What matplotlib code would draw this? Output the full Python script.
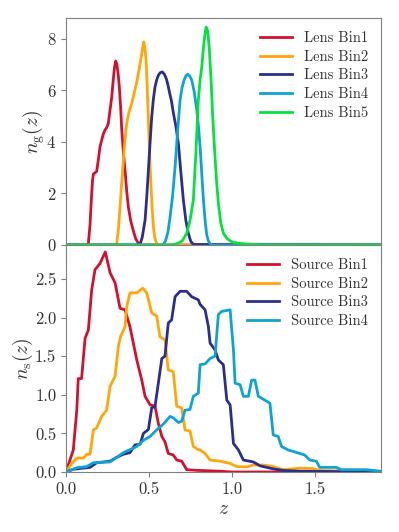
import numpy as np
import matplotlib
matplotlib.use('Agg')
import matplotlib.pyplot as plt

plt.rcParams['font.family'] = 'serif'
plt.rcParams['font.serif'] = ['cmr10']
plt.rcParams['mathtext.fontset'] = 'cm'
plt.rcParams['axes.unicode_minus'] = False
plt.rcParams['axes.formatter.use_mathtext'] = True

colors = ['#d2112f', '#ffa60a', '#2b2e8c', '#0fa3d4', '#08e040']

# lens bins: (z, n_g)
lens_labels = ['Lens Bin1', 'Lens Bin2', 'Lens Bin3', 'Lens Bin4', 'Lens Bin5']
lens_z = [
    [0.0, 0.13, 0.135, 0.145, 0.155, 0.16, 0.165, 0.175, 0.185, 0.195, 0.205, 0.215,
     0.225, 0.235, 0.245, 0.255, 0.265, 0.276, 0.285, 0.293, 0.30, 0.307, 0.315, 0.322,
     0.33, 0.336, 0.346, 0.356, 0.366, 0.376, 0.39, 0.406, 0.42, 0.435, 0.447, 1.9],
    [0.0, 0.30, 0.306, 0.316, 0.326, 0.336, 0.346, 0.356, 0.366, 0.38, 0.396, 0.41,
     0.427, 0.442, 0.457, 0.464, 0.469, 0.475, 0.483, 0.49, 0.497, 0.504, 0.511, 0.519,
     0.527, 0.535, 0.545, 0.555, 1.9],
    [0.0, 0.44, 0.447, 0.46, 0.477, 0.487, 0.497, 0.507, 0.517, 0.527, 0.537, 0.547,
     0.557, 0.569, 0.581, 0.593, 0.605, 0.615, 0.625, 0.637, 0.648, 0.663, 0.678, 0.693,
     0.708, 0.723, 0.738, 0.752, 0.768, 1.9],
    [0.0, 0.58, 0.587, 0.60, 0.615, 0.628, 0.643, 0.658, 0.673, 0.688, 0.70, 0.712,
     0.723, 0.734, 0.746, 0.758, 0.773, 0.789, 0.799, 0.809, 0.819, 0.829, 0.839, 0.849,
     0.859, 0.869, 0.88, 1.9],
    [0.0, 0.62, 0.66, 0.70, 0.728, 0.748, 0.768, 0.783, 0.798, 0.809, 0.819, 0.828,
     0.836, 0.845, 0.855, 0.865, 0.875, 0.885, 0.897, 0.909, 0.921, 0.934, 0.95, 0.97,
     0.99, 1.01, 1.05, 1.11, 1.2, 1.9],
]
lens_n = [
    [0.0, 0.0, 0.06, 0.8, 2.0, 2.5, 2.75, 2.8, 2.85, 3.3, 3.8, 4.06,
     4.3, 4.45, 4.55, 4.7, 5.2, 5.74, 6.4, 6.9, 7.13, 7.0, 6.6, 6.1,
     5.3, 4.5, 3.6, 2.9, 2.1, 1.48, 0.95, 0.55, 0.25, 0.08, 0.0, 0.0],
    [0.0, 0.0, 0.06, 0.6, 1.48, 2.4, 3.29, 4.1, 4.71, 5.15, 5.48, 5.85,
     6.32, 6.85, 7.42, 7.7, 7.87, 7.7, 7.16, 6.1, 4.84, 3.6, 2.52, 1.5,
     0.71, 0.3, 0.08, 0.0, 0.0],
    [0.0, 0.0, 0.03, 0.3, 0.97, 1.85, 2.9, 3.95, 4.97, 5.65, 6.13, 6.4,
     6.58, 6.68, 6.71, 6.62, 6.45, 6.2, 5.9, 5.55, 5.1, 4.6, 3.93, 2.8,
     1.74, 0.95, 0.45, 0.15, 0.02, 0.0],
    [0.0, 0.0, 0.02, 0.15, 0.5, 1.1, 1.9, 3.03, 4.4, 5.61, 6.1, 6.39,
     6.55, 6.62, 6.55, 6.4, 5.95, 5.22, 4.6, 3.8, 2.75, 1.74, 0.95, 0.39,
     0.15, 0.05, 0.0, 0.0],
    [0.0, 0.0, 0.03, 0.15, 0.45, 0.95, 1.74, 3.5, 5.61, 6.4, 6.9, 7.6,
     8.06, 8.45, 8.3, 7.55, 6.4, 4.97, 3.6, 2.39, 1.5, 0.84, 0.45, 0.26,
     0.16, 0.1, 0.06, 0.03, 0.0, 0.0],
]

# source bins: (z, n_s)
source_labels = ['Source Bin1', 'Source Bin2', 'Source Bin3', 'Source Bin4']
source_z = [
    [0.0, 0.044, 0.065, 0.074, 0.094, 0.115, 0.135, 0.155, 0.175, 0.205, 0.237, 0.266,
     0.296, 0.326, 0.356, 0.386, 0.427, 0.457, 0.477, 0.507, 0.537, 0.557, 0.578, 0.597,
     0.617, 0.647, 0.668, 0.698, 0.728, 0.8, 0.93, 1.0, 1.9],
    [0.0, 0.034, 0.065, 0.105, 0.125, 0.145, 0.165, 0.185, 0.215, 0.245, 0.266, 0.296,
     0.316, 0.33, 0.356, 0.366, 0.386, 0.427, 0.463, 0.487, 0.517, 0.547, 0.567, 0.597,
     0.617, 0.647, 0.668, 0.698, 0.718, 0.748, 0.768, 0.798, 0.809, 0.839, 0.869, 0.929,
     0.99, 1.03, 1.09, 1.13, 1.19, 1.25, 1.31, 1.41, 1.49, 1.53, 1.65, 1.67, 1.9],
    [0.0, 0.044, 0.145, 0.185, 0.266, 0.306, 0.346, 0.386, 0.416, 0.447, 0.467, 0.497,
     0.517, 0.537, 0.557, 0.578, 0.597, 0.617, 0.637, 0.658, 0.688, 0.728, 0.758, 0.798,
     0.809, 0.839, 0.859, 0.869, 0.899, 0.919, 0.949, 0.97, 0.99, 1.01, 1.04, 1.07,
     1.13, 1.17, 1.25, 1.31, 1.41, 1.9],
    [0.0, 0.065, 0.125, 0.165, 0.266, 0.306, 0.346, 0.386, 0.427, 0.467, 0.507, 0.547,
     0.587, 0.628, 0.648, 0.678, 0.698, 0.718, 0.748, 0.768, 0.798, 0.809, 0.839, 0.869,
     0.899, 0.919, 0.939, 0.99, 1.01, 1.02, 1.05, 1.07, 1.10, 1.12, 1.14, 1.16, 1.20,
     1.23, 1.25, 1.28, 1.30, 1.34, 1.38, 1.44, 1.47, 1.51, 1.53, 1.63, 1.66, 1.81, 1.9],
]
source_n = [
    [0.0, 0.285, 0.8, 1.21, 1.21, 1.73, 1.84, 2.36, 2.62, 2.7, 2.85, 2.58,
     2.45, 2.12, 2.1, 1.88, 1.45, 1.19, 0.98, 0.87, 0.85, 0.63, 0.46, 0.39,
     0.24, 0.22, 0.155, 0.14, 0.03, 0.02, 0.01, 0.0, 0.0],
    [0.0, 0.11, 0.18, 0.18, 0.23, 0.23, 0.545, 0.57, 0.72, 0.8, 1.11, 1.24,
     1.63, 1.76, 1.88, 2.14, 2.32, 2.32, 2.38, 2.32, 2.06, 2.02, 1.75, 1.71,
     1.32, 1.3, 0.85, 0.83, 0.545, 0.53, 0.33, 0.29, 0.285, 0.24, 0.155, 0.14,
     0.11, 0.07, 0.065, 0.09, 0.09, 0.07, 0.03, 0.05, 0.045, 0.02, 0.015, 0.0, 0.0],
    [0.0, 0.035, 0.06, 0.12, 0.14, 0.19, 0.23, 0.25, 0.35, 0.36, 0.5, 0.55,
     0.83, 0.85, 1.15, 1.47, 1.5, 1.93, 1.97, 2.27, 2.34, 2.34, 2.27, 2.23,
     2.17, 2.1, 1.88, 1.67, 1.58, 1.45, 1.39, 0.93, 0.87, 0.37, 0.285, 0.155,
     0.13, 0.08, 0.04, 0.02, 0.01, 0.0],
    [0.0, 0.055, 0.07, 0.12, 0.13, 0.19, 0.25, 0.29, 0.33, 0.41, 0.46, 0.545,
     0.62, 0.72, 0.7, 0.64, 0.66, 0.8, 0.81, 0.98, 1.02, 1.39, 1.4, 1.47,
     1.5, 2.04, 2.08, 2.1, 1.58, 1.15, 1.13, 0.98, 0.98, 1.19, 1.19, 0.98, 0.93,
     0.89, 0.48, 0.46, 0.33, 0.285, 0.26, 0.22, 0.155, 0.14, 0.06, 0.06, 0.03, 0.03, 0.01],
]

fig = plt.figure(figsize=(3.99, 5.32), dpi=100)
ax1 = fig.add_axes([0.1654, 0.5395, 0.7895, 0.4267])
ax2 = fig.add_axes([0.1654, 0.1128, 0.7895, 0.4267], sharex=ax1)

for z, n, c, lab in zip(lens_z, lens_n, colors, lens_labels):
    ax1.plot(z, n, color=c, lw=2, label=lab, solid_joinstyle='round')
for z, n, c, lab in zip(source_z, source_n, colors, source_labels):
    ax2.plot(z, n, color=c, lw=2, label=lab, solid_joinstyle='round')

ax1.set_xlim(0, 1.9)
ax1.set_ylim(0, 8.8)
ax2.set_ylim(0, 2.94)
ax1.set_yticks([0, 2, 4, 6, 8])
ax2.set_yticks([0.0, 0.5, 1.0, 1.5, 2.0, 2.5])
ax2.set_yticklabels(['0.0', '0.5', '1.0', '1.5', '2.0', '2.5'])
ax2.set_xticks([0.0, 0.5, 1.0, 1.5])
ax2.set_xticklabels(['0.0', '0.5', '1.0', '1.5'])

for ax in (ax1, ax2):
    for sp in ax.spines.values():
        sp.set_color('#808080')
    ax.tick_params(direction='out', colors='#808080', labelcolor='#333333',
                   labelsize=12, length=3.5)
ax1.tick_params(axis='x', bottom=False, labelbottom=False)

ax1.set_ylabel(r'$n_{\rm g}(z)$', fontsize=14, color='#333333')
ax2.set_ylabel(r'$n_{\rm s}(z)$', fontsize=14, color='#333333')
ax2.set_xlabel(r'$z$', fontsize=14, color='#333333', labelpad=2)
ax1.yaxis.set_label_coords(-0.06, 0.5)
ax2.yaxis.set_label_coords(-0.098, 0.5)

for ax in (ax1, ax2):
    leg = ax.legend(loc='upper right', frameon=False, fontsize=10.5,
                    handlelength=2.2, labelspacing=0.35)
    for t in leg.get_texts():
        t.set_color('#333333')

fig.savefig('out.png', dpi=100)
